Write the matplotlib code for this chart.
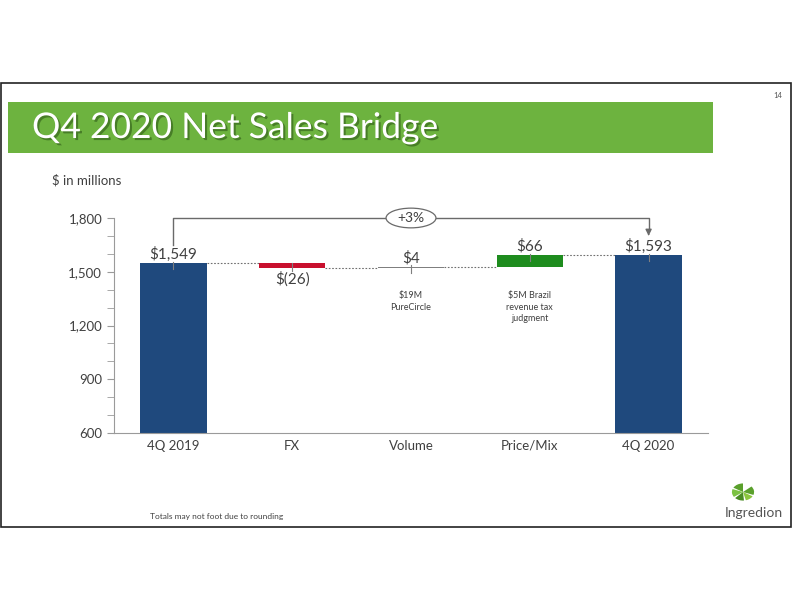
import matplotlib
matplotlib.use('Agg')
import matplotlib.pyplot as plt
import matplotlib.patheffects as pe
from matplotlib.patches import Rectangle, Ellipse, Wedge
from matplotlib.ticker import MultipleLocator, FuncFormatter

plt.rcParams['font.family'] = ['Lato', 'DejaVu Sans']

# data
categories = ['4Q 2019', 'FX', 'Volume', 'Price/Mix', '4Q 2020']
start_total = 1549
changes = [-26, 4, 66]
end_total = 1593
value_labels = ['$1,549', '$(26)', '$4', '$66', '$1,593']
notes = {2: '$19M\nPureCircle', 3: '$5M Brazil\nrevenue tax\njudgment'}
growth_label = '+3%'

navy = '#1f497d'
bar_colors = [navy, '#c8102e', '#7f7f7f', '#1e8c1e', navy]
text_gray = '#404040'

# bottoms / heights of the waterfall
bottoms, heights = [0], [start_total]
level = start_total
for c in changes:
    bottoms.append(min(level, level + c))
    heights.append(abs(c))
    level += c
bottoms.append(0)
heights.append(end_total)
tops = [b + h for b, h in zip(bottoms, heights)]

fig = plt.figure(figsize=(7.92, 6.12), dpi=100)

# slide frame
fig.add_artist(Rectangle((0.001, 1 - 527 / 612), 0.998, 444 / 612, transform=fig.transFigure,
                         fill=False, edgecolor='#222222', lw=1.2))
# title banner
fig.add_artist(Rectangle((8 / 792, 1 - 153 / 612), 705 / 792, 51 / 612, transform=fig.transFigure,
                         facecolor='#6db33f', edgecolor='none'))
fig.text(32 / 792, 1 - 128 / 612, 'Q4 2020 Net Sales Bridge', fontsize=25.5,
         color='white', va='center', ha='left',
         path_effects=[pe.withSimplePatchShadow(offset=(1.5, -1.5), shadow_rgbFace='#2f5a18', alpha=0.6)])
fig.text(778 / 792, 1 - 95 / 612, '14', fontsize=5.5, color='#555555', ha='center', va='center')
fig.text(52 / 792, 1 - 180 / 612, '$ in millions', fontsize=9.5, color=text_gray, va='center')
fig.text(150 / 792, 1 - 517 / 612, 'Totals may not foot due to rounding', fontsize=6,
         color=text_gray, va='center')

# logo
fig.text(754 / 792, 1 - 513 / 612, 'Ingredion', fontsize=10, color='#555555',
         ha='center', va='center')
lx, ly = 743 / 792, 1 - 492 / 612
for th1, th2, col in [(90, 150, '#5aa02c'), (160, 215, '#7cc242'), (225, 275, '#4a8c24'),
                      (285, 330, '#8cc63f'), (340, 400, '#5aa02c')]:
    fig.add_artist(Wedge((lx, ly), 0.014, th1, th2, transform=fig.transFigure,
                         facecolor=col, edgecolor='none'))

ax = fig.add_axes([114 / 792, 1 - 433 / 612, 594 / 792, 215 / 612])
x = list(range(len(categories)))
ax.bar(x, heights, bottom=bottoms, width=0.56, color=bar_colors, zorder=2)

ax.set_xlim(-0.5, 4.5)
ax.set_ylim(600, 1800)
ax.yaxis.set_major_locator(MultipleLocator(300))
ax.yaxis.set_minor_locator(MultipleLocator(100))
ax.yaxis.set_major_formatter(FuncFormatter(lambda v, p: f'{v:,.0f}'))
ax.set_xticks(x)
ax.set_xticklabels(categories)
for s in ['top', 'right']:
    ax.spines[s].set_visible(False)
for s in ['left', 'bottom']:
    ax.spines[s].set_color('#9a9a9a')
ax.tick_params(axis='y', which='both', colors='#9a9a9a', labelcolor=text_gray, labelsize=9.5, length=5)
ax.tick_params(axis='x', length=0, labelcolor=text_gray, labelsize=9.5, pad=5)

# dotted connectors between bar levels
for i in range(len(categories) - 1):
    lvl = start_total + sum(changes[:i])
    ax.plot([i + 0.28, i + 1 - 0.28], [lvl, lvl], ls=(0, (1.5, 1.5)), color='#6f6f6f', lw=0.8, zorder=1)

# value labels
for i, lab in enumerate(value_labels):
    if i == 1:
        ax.text(i, bottoms[i] - 22, lab, ha='center', va='top', fontsize=11, color=text_gray)
        ax.plot([i, i], [tops[i], bottoms[i] - 18], color='#7f7f7f', lw=0.8, zorder=3)
    else:
        ax.text(i, tops[i] + 8, lab, ha='center', va='bottom', fontsize=11, color=text_gray)
        ax.plot([i, i], [tops[i] - 35, tops[i] + 8], color='#7f7f7f', lw=0.8, zorder=3)

for i, n in notes.items():
    ax.text(i, 1390, n, ha='center', va='top', fontsize=6.5, color=text_gray, linespacing=1.3)

# growth bracket
yb = 1800
ax.plot([0, 0, 4, 4], [tops[0] + 100, yb, yb, yb - 75], color='#6a6a6a', lw=1, clip_on=False, zorder=3)
ax.annotate('', xy=(4, yb - 115), xytext=(4, yb - 70),
            arrowprops=dict(arrowstyle='-|>', color='#6a6a6a', lw=1, mutation_scale=9),
            annotation_clip=False)
ax.add_patch(Ellipse((2, yb), 0.42, 110, facecolor='white', edgecolor='#6a6a6a', lw=0.9,
                     clip_on=False, zorder=4))
ax.text(2, yb, growth_label, ha='center', va='center', fontsize=10, color=text_gray, zorder=5)

fig.savefig('out.png', dpi=100)
